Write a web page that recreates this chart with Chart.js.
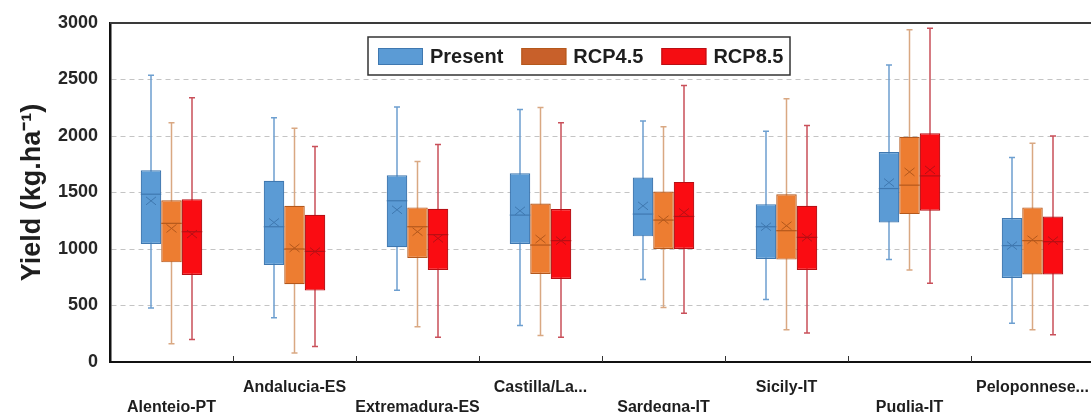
<!DOCTYPE html>
<html>
<head>
<meta charset="utf-8">
<script src="https://cdn.jsdelivr.net/npm/chart.js@4.4.1/dist/chart.umd.min.js"></script>
<style>
  html, body { margin: 0; padding: 0; background: #fff; overflow: hidden; }
  #wrap { position: absolute; left: 0; top: 0; width: 1096px; height: 412px; }
</style>
</head>
<body>
<div id="wrap"><canvas id="c"></canvas></div>
<script>
// Regions (x categories) and scenarios
const regions = ['Alenteio-PT', 'Andalucia-ES', 'Extremadura-ES', 'Castilla/La...',
                 'Sardegna-IT', 'Sicily-IT', 'Puglia-IT', 'Peloponnese...'];
const scenarios = ['Present', 'RCP4.5', 'RCP8.5'];
const yTickValues = [0, 500, 1000, 1500, 2000, 2500, 3000];

// Yield statistics, kg/ha — Present
const presentMin    = [477, 391, 635, 324, 730, 553, 906, 344];
const presentQ1     = [1044, 859, 1015, 1044, 1112, 912, 1235, 744];
const presentMedian = [1485, 1197, 1427, 1300, 1309, 1197, 1535, 1030];
const presentQ3     = [1697, 1603, 1653, 1671, 1632, 1397, 1859, 1274];
const presentMax    = [2538, 2162, 2256, 2235, 2132, 2041, 2629, 1809];
const presentMean   = [1426, 1235, 1347, 1338, 1382, 1197, 1588, 1030];

// RCP4.5
const rcp45Min    = [162, 80, 312, 235, 482, 285, 815, 285];
const rcp45Q1     = [882, 688, 921, 779, 1000, 906, 1309, 774];
const rcp45Median = [1227, 1000, 1197, 1035, 1256, 1162, 1565, 1074];
const rcp45Q3     = [1432, 1382, 1368, 1403, 1509, 1485, 1994, 1368];
const rcp45Max    = [2118, 2068, 1774, 2253, 2082, 2329, 2941, 1935];
const rcp45Mean   = [1182, 1009, 1153, 1088, 1259, 1206, 1682, 1082];

// RCP8.5
const rcp85Min    = [200, 138, 218, 218, 432, 256, 697, 241];
const rcp85Q1     = [771, 632, 815, 735, 1000, 815, 1338, 774];
const rcp85Median = [1153, 979, 1127, 1074, 1288, 1103, 1647, 1065];
const rcp85Q3     = [1441, 1303, 1356, 1353, 1594, 1382, 2024, 1288];
const rcp85Max    = [2338, 1906, 1924, 2118, 2447, 2094, 2953, 2000];
const rcp85Mean   = [1132, 977, 1094, 1074, 1324, 1103, 1700, 1074];

const FONT = "'Liberation Sans', Arial, Helvetica, sans-serif";

const styles = [
  { fill: '#5b9bd5', edge: '#3f78b0', whisker: '#6d9fd0', legend: '#5b9bd5' },
  { fill: '#ed7d31', edge: '#b4581c', whisker: '#d9a882', legend: '#c8602a' },
  { fill: '#fa0c12', edge: '#b80f14', whisker: '#c9505a', legend: '#f50d12' }
];

const stats = [
  { min: presentMin, q1: presentQ1, med: presentMedian, q3: presentQ3, max: presentMax, mean: presentMean },
  { min: rcp45Min, q1: rcp45Q1, med: rcp45Median, q3: rcp45Q3, max: rcp45Max, mean: rcp45Mean },
  { min: rcp85Min, q1: rcp85Q1, med: rcp85Median, q3: rcp85Q3, max: rcp85Max, mean: rcp85Mean }
];

// Category labels alternate between a lower and an upper row
const xLabels = regions.map((r, i) => (i % 2 === 0 ? ['', r] : [r, '']));

const datasets = scenarios.map((name, k) => ({
  label: name,
  data: stats[k].q1.map((v, i) => [v, stats[k].q3[i]]),
  backgroundColor: styles[k].fill,
  borderColor: styles[k].edge,
  borderWidth: 1.2,
  borderSkipped: false,
  categoryPercentage: 0.5,
  barPercentage: 1.0
}));

// Whiskers, medians, means, frame details and the framed legend
const boxPlot = {
  id: 'boxPlot',
  beforeDatasetsDraw(chart) {
    const { ctx, scales: { y } } = chart;
    stats.forEach((s, k) => {
      const meta = chart.getDatasetMeta(k);
      meta.data.forEach((bar, i) => {
        const x = bar.x;
        const yLo = y.getPixelForValue(s.min[i]);
        const yHi = y.getPixelForValue(s.max[i]);
        ctx.save();
        ctx.strokeStyle = styles[k].whisker;
        ctx.lineWidth = 1.5;
        ctx.beginPath();
        ctx.moveTo(x, yLo); ctx.lineTo(x, yHi);
        ctx.moveTo(x - 3, yLo); ctx.lineTo(x + 3, yLo);
        ctx.moveTo(x - 3, yHi); ctx.lineTo(x + 3, yHi);
        ctx.stroke();
        ctx.restore();
      });
    });
  },
  afterDatasetsDraw(chart) {
    const { ctx, scales: { y } } = chart;
    stats.forEach((s, k) => {
      const meta = chart.getDatasetMeta(k);
      meta.data.forEach((bar, i) => {
        const half = bar.width / 2;
        const ym = y.getPixelForValue(s.med[i]);
        const ya = y.getPixelForValue(s.mean[i]);
        ctx.save();
        ctx.strokeStyle = styles[k].edge;
        ctx.lineWidth = 1.2;
        ctx.beginPath();
        ctx.moveTo(bar.x - half, ym); ctx.lineTo(bar.x + half, ym);
        ctx.stroke();
        ctx.lineWidth = 1;
        ctx.beginPath();
        ctx.moveTo(bar.x - 5, ya - 4); ctx.lineTo(bar.x + 5, ya + 4);
        ctx.moveTo(bar.x - 5, ya + 4); ctx.lineTo(bar.x + 5, ya - 4);
        ctx.stroke();
        ctx.restore();
      });
    });
  },
  afterDraw(chart) {
    const { ctx, chartArea: a, scales: { x } } = chart;
    ctx.save();
    // top frame line
    ctx.strokeStyle = '#3a3a3a';
    ctx.lineWidth = 2;
    ctx.beginPath();
    ctx.moveTo(a.left, a.top); ctx.lineTo(a.right, a.top);
    ctx.stroke();
    // category separators on the x axis
    ctx.strokeStyle = '#333';
    ctx.lineWidth = 1;
    ctx.beginPath();
    for (let i = 1; i < regions.length; i++) {
      const px = Math.round((x.getPixelForValue(i - 1) + x.getPixelForValue(i)) / 2) + 0.5;
      ctx.moveTo(px, a.bottom - 6); ctx.lineTo(px, a.bottom);
    }
    ctx.stroke();

    // legend box
    const lx = 368, ly = 37, lw = 422, lh = 38;
    ctx.fillStyle = '#fff';
    ctx.fillRect(lx, ly, lw, lh);
    ctx.strokeStyle = '#333';
    ctx.lineWidth = 1.5;
    ctx.strokeRect(lx, ly, lw, lh);
    ctx.font = 'bold 20px ' + FONT;
    ctx.textBaseline = 'middle';
    ctx.textAlign = 'left';
    let cx = lx + 10;
    const cy = ly + lh / 2;
    scenarios.forEach((name, k) => {
      ctx.fillStyle = styles[k].legend;
      ctx.fillRect(cx, cy - 8, 45, 17);
      ctx.strokeStyle = styles[k].edge;
      ctx.lineWidth = 1;
      ctx.strokeRect(cx + 0.5, cy - 7.5, 44, 16);
      ctx.fillStyle = '#1e1e1e';
      ctx.fillText(name, cx + 52, cy + 1);
      cx += 52 + ctx.measureText(name).width + 18;
    });
    ctx.restore();
  }
};

new Chart(document.getElementById('c'), {
  type: 'bar',
  data: { labels: xLabels, datasets },
  plugins: [boxPlot],
  options: {
    responsive: true,
    maintainAspectRatio: false,
    animation: false,
    layout: { padding: { left: 0, right: 2, top: 23, bottom: 0 } },
    plugins: { legend: { display: false }, tooltip: { enabled: false } },
    scales: {
      x: {
        grid: { display: false, drawTicks: false },
        border: { display: true, color: '#111', width: 2 },
        ticks: {
          autoSkip: false, maxRotation: 0, minRotation: 0, padding: 16,
          color: '#1e1e1e',
          font: { family: FONT, size: 16, weight: 'bold', lineHeight: 1.25 }
        },
        afterFit(scale) {
          scale.height = 50;
          scale.paddingLeft = 0;
          scale.paddingRight = 0;
        }
      },
      y: {
        min: 0, max: 3000,
        afterBuildTicks(scale) { scale.ticks = yTickValues.map(v => ({ value: v })); },
        grid: { color: '#c4c4c4', lineWidth: 1, drawTicks: false },
        border: { display: true, color: '#111', width: 2.5, dash: [5, 4] },
        ticks: {
          padding: 12, color: '#262626',
          font: { family: FONT, size: 18, weight: 'bold' },
          callback: v => String(v)
        },
        title: {
          display: true,
          text: 'Yield (kg.ha⁻¹)',
          color: '#1e1e1e',
          padding: { top: 16, bottom: 0 },
          font: { family: FONT, size: 27, weight: 'bold' }
        },
        afterFit(scale) { scale.width = 110; }
      }
    }
  }
});
</script>
</body>
</html>
